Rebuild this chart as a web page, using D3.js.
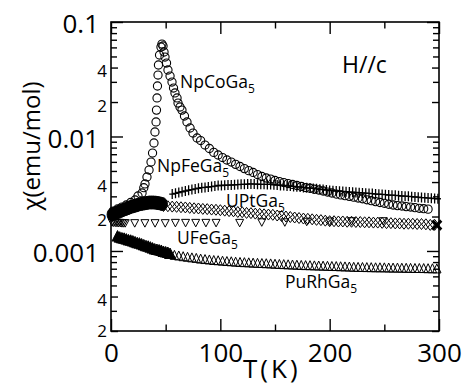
<!DOCTYPE html>
<html>
<head>
<meta charset="utf-8">
<script src="https://cdn.jsdelivr.net/npm/d3@7"></script>
<style>
  html, body { margin: 0; padding: 0; background: #fff; }
  svg { display: block; font-family: "Open Sans", sans-serif; }
</style>
</head>
<body>
<svg id="chart"></svg>
<script>
// susceptibility chi (emu/mol) vs T (K) as [T, chi]
var npCoGa5 = [
  [2, 0.00223], [6, 0.00233], [10, 0.00242], [14, 0.00252], [18, 0.00265], [22, 0.00279],
  [24.7, 0.00302], [28.4, 0.00321], [30, 0.00357], [31.1, 0.00385], [32.9, 0.00443], [34.8, 0.00509],
  [36.6, 0.00598], [38, 0.00717], [39.3, 0.00877], [40.2, 0.01094], [41.2, 0.0134], [41.6, 0.0170],
  [42.1, 0.0217], [42.5, 0.0276], [43, 0.0344], [43.4, 0.0421], [44.4, 0.0515], [45.7, 0.0605],
  [46.6, 0.0642], [47.6, 0.0617], [48.5, 0.0547], [49.4, 0.0494], [50.8, 0.0438], [52.1, 0.0381],
  [54, 0.0337], [55.8, 0.0299], [57.2, 0.0265], [58.5, 0.0240], [60.4, 0.0217], [61.3, 0.0196],
  [63.1, 0.0181], [64.9, 0.0170], [67.2, 0.0151], [69.5, 0.0134], [72.3, 0.01186], [75, 0.01072],
  [78.7, 0.0097], [82, 0.00922], [86, 0.00842], [90, 0.00785], [94, 0.00726], [98, 0.00689],
  [102, 0.00655], [106, 0.00623], [110, 0.00598], [114, 0.00571], [118, 0.00547], [122, 0.00524],
  [126, 0.00503], [130, 0.00485], [134, 0.00465], [138, 0.00447], [142, 0.00434], [146, 0.00425],
  [150, 0.00413], [154, 0.00404], [158, 0.00396], [162, 0.00388], [166, 0.00381], [170, 0.00373],
  [174, 0.00366], [178, 0.00358], [182, 0.00353], [186, 0.00346], [190, 0.00341], [194, 0.00334],
  [198, 0.00327], [202, 0.00321], [206, 0.00314], [210, 0.00309], [214, 0.00304], [218, 0.00300],
  [222, 0.00295], [226, 0.00290], [230, 0.00286], [234, 0.00280], [238, 0.00275], [242, 0.00270],
  [246, 0.00265], [250, 0.00261], [254, 0.00256], [258, 0.00252], [262, 0.00249], [266, 0.00247],
  [270, 0.00244], [274, 0.00242], [278, 0.00239], [282, 0.00236], [286, 0.00234], [290, 0.00232]
];

var npFeGa5 = [
  [56, 0.00314], [59, 0.00319], [62, 0.00324], [65, 0.00329], [68, 0.00334], [71, 0.00339],
  [74, 0.00344], [77, 0.00348], [80, 0.00353], [83, 0.00357], [86, 0.00359], [89, 0.00362],
  [92, 0.00365], [95, 0.00369], [98, 0.00373], [101, 0.00373], [104, 0.00375], [107, 0.00376],
  [110, 0.00377], [113, 0.00378], [116, 0.00380], [119, 0.00382], [122, 0.00382], [125, 0.00384],
  [128, 0.00385], [131, 0.00384], [134, 0.00383], [137, 0.00382], [140, 0.00382], [143, 0.00381],
  [146, 0.00381], [149, 0.00378], [152, 0.00377], [155, 0.00374], [158, 0.00373], [161, 0.00370],
  [164, 0.00369], [167, 0.00366], [170, 0.00363], [173, 0.00362], [176, 0.00359], [179, 0.00356],
  [182, 0.00355], [185, 0.00352], [188, 0.00349], [191, 0.00346], [194, 0.00344], [197, 0.00341],
  [200, 0.00338], [203, 0.00336], [206, 0.00334], [209, 0.00333], [212, 0.00331], [215, 0.00329],
  [218, 0.00327], [221, 0.00326], [224, 0.00324], [227, 0.00323], [230, 0.00321], [233, 0.00320],
  [236, 0.00318], [239, 0.00317], [242, 0.00314], [245, 0.00313], [248, 0.00312], [251, 0.00310],
  [254, 0.00308], [257, 0.00307], [260, 0.00306], [263, 0.00304], [266, 0.00302], [269, 0.00301],
  [272, 0.00300], [275, 0.00298], [278, 0.00296], [281, 0.00295], [284, 0.00293], [287, 0.00292],
  [290, 0.00290], [293, 0.00289], [296, 0.00287], [299, 0.00286]
];

// UPtGa5: dense low-T run (drawn solid) and open diamonds above ~48 K
var uPtGa5Low = [
  [1, 0.00208], [3, 0.00212], [5, 0.00216], [7, 0.00220], [9, 0.00224], [11, 0.00228],
  [13, 0.00232], [15, 0.00236], [17, 0.00240], [19, 0.00244], [21, 0.00247], [23, 0.00250],
  [25, 0.00254], [27, 0.00257], [29, 0.00259], [31, 0.00261], [33, 0.00263], [35, 0.00265],
  [37, 0.00265], [39, 0.00265], [41, 0.00264], [43, 0.00262], [45, 0.00260], [47, 0.00257]
];
var uPtGa5 = [
  [48, 0.00247], [52, 0.00246], [56, 0.00244], [60, 0.00243], [64, 0.00241], [68, 0.00240],
  [72, 0.00238], [76, 0.00236], [80, 0.00235], [84, 0.00233], [88, 0.00232], [92, 0.00230],
  [96, 0.00229], [100, 0.00227], [104, 0.00225], [108, 0.00223], [112, 0.00222], [116, 0.00219],
  [120, 0.00218], [124, 0.00215], [128, 0.00214], [132, 0.00212], [136, 0.00211], [140, 0.00209],
  [144, 0.00208], [148, 0.00207], [152, 0.00204], [156, 0.00202], [160, 0.00200], [164, 0.00198],
  [168, 0.00196], [172, 0.00194], [176, 0.00192], [180, 0.00191], [184, 0.00189], [188, 0.00187],
  [192, 0.00186], [196, 0.00184], [200, 0.00182], [204, 0.00182], [208, 0.00181], [212, 0.00181],
  [216, 0.00180], [220, 0.00180], [224, 0.00179], [228, 0.00179], [232, 0.00178], [236, 0.00178],
  [240, 0.00177], [244, 0.00177], [248, 0.00176], [252, 0.00175], [256, 0.00175], [260, 0.00174],
  [264, 0.00174], [268, 0.00173], [272, 0.00173], [276, 0.00173], [280, 0.00172], [284, 0.00172],
  [288, 0.00171], [292, 0.00169], [296, 0.00169]
];
var endMark = [[298, 0.00168]];

var uFeGa5 = [
  [1, 0.00178], [2.5, 0.00177], [4, 0.00177], [5.5, 0.00176], [7, 0.00176], [8.5, 0.00176],
  [10, 0.00175], [11.5, 0.00175], [13, 0.00175], [21.7, 0.00175], [31, 0.00175], [40.3, 0.00175],
  [49.6, 0.00175], [58.9, 0.00176], [68.2, 0.00176], [77.5, 0.00176], [86.8, 0.00176], [96.1, 0.00176],
  [117.7, 0.00176], [137.9, 0.00178], [159, 0.00178], [179, 0.00180], [200, 0.00181], [220, 0.00182],
  [249, 0.00182]
];

// PuRhGa5: dense low-T run (solid) and open triangles above ~55 K
var puRhGa5Low = [
  [6, 0.00135], [8, 0.00132], [10, 0.00130], [12, 0.00129], [14, 0.00127], [16, 0.00125],
  [18, 0.00124], [20, 0.00122], [22, 0.00120], [24, 0.00118], [26, 0.00117], [28, 0.00115],
  [30, 0.00113], [32, 0.00111], [34, 0.00110], [36, 0.00108], [38, 0.00106], [40, 0.00104],
  [42, 0.00103], [44, 0.00102], [46, 0.00101], [48, 0.00099], [50, 0.00098], [52, 0.00097],
  [54, 0.00095]
];
var puRhGa5 = [
  [58, 0.000919], [62, 0.000908], [66, 0.000895], [70, 0.000885], [74, 0.000874], [78, 0.000865],
  [82, 0.000853], [86, 0.000845], [90, 0.000838], [94, 0.000829], [98, 0.000825], [102, 0.000818],
  [106, 0.000812], [110, 0.000808], [114, 0.000802], [118, 0.000797], [122, 0.000794], [126, 0.000791],
  [130, 0.000786], [134, 0.000783], [138, 0.000780], [142, 0.000777], [146, 0.000774], [150, 0.000769],
  [154, 0.000766], [158, 0.000763], [162, 0.000760], [166, 0.000757], [170, 0.000754], [174, 0.000751],
  [178, 0.000748], [182, 0.000747], [186, 0.000744], [190, 0.000742], [194, 0.000740], [198, 0.000738],
  [202, 0.000735], [206, 0.000734], [210, 0.000731], [214, 0.000729], [218, 0.000727], [222, 0.000723],
  [226, 0.000722], [230, 0.000720], [234, 0.000719], [238, 0.000718], [242, 0.000716], [246, 0.000716],
  [250, 0.000715], [254, 0.000713], [258, 0.000712], [262, 0.000712], [266, 0.000710], [270, 0.000709],
  [274, 0.000708], [278, 0.000706], [282, 0.000706], [286, 0.000705], [290, 0.000703], [294, 0.000702],
  [298, 0.000700]
];

// ticks
var xMajor = [0, 100, 200, 300];
var xMinor = [50, 150, 250];
var yDecades = [0.001, 0.01, 0.1];
var yLabelled = [2e-4, 4e-4, 0.002, 0.004, 0.02, 0.04];
var yMinor = [3e-4, 5e-4, 6e-4, 7e-4, 8e-4, 9e-4, 0.003, 0.005, 0.006, 0.007, 0.008, 0.009,
              0.03, 0.05, 0.06, 0.07, 0.08, 0.09];

// labels placed next to the curves
var curveLabels = [
  { name: "NpCoGa", at: [180, 88] },
  { name: "NpFeGa", at: [157, 172] },
  { name: "UPtGa", at: [226, 207] },
  { name: "UFeGa", at: [177, 244] },
  { name: "PuRhGa", at: [285, 288] }
];

var width = 468, height = 387;
var margin = { top: 22, right: 29, bottom: 56, left: 111 };

var svg = d3.select("#chart")
    .attr("width", width)
    .attr("height", height)
    .attr("viewBox", "0 0 " + width + " " + height);

svg.append("rect").attr("width", width).attr("height", height).attr("fill", "#fff");

var x = d3.scaleLinear()
    .domain([0, 300])
    .range([margin.left, width - margin.right]);

var y = d3.scaleLog()
    .domain([2e-4, 0.1])
    .range([height - margin.bottom, margin.top]);

var x0 = x.range()[0], x1 = x.range()[1];
var yb = y.range()[0], yt = y.range()[1];

// axes, ticks point into the frame
function styleAxis(g, w) {
    g.select(".domain").remove();
    g.selectAll(".tick line").attr("stroke", "#000").attr("stroke-width", w);
}

svg.append("g")
    .attr("transform", "translate(0," + yb + ")")
    .call(d3.axisBottom(x).tickValues(xMajor).tickSize(-12).tickPadding(13).tickFormat(d3.format("d")))
    .call(g => styleAxis(g, 1.4))
    .call(g => g.selectAll("text").attr("font-size", 26).attr("font-family", "Open Sans").attr("fill", "#000"));
svg.append("g")
    .attr("transform", "translate(0," + yb + ")")
    .call(d3.axisBottom(x).tickValues(xMinor).tickSize(-6.5).tickFormat(""))
    .call(g => styleAxis(g, 1.4));
svg.append("g")
    .attr("transform", "translate(0," + yt + ")")
    .call(d3.axisTop(x).tickValues(xMajor).tickSize(-12).tickFormat(""))
    .call(g => styleAxis(g, 1.4));
svg.append("g")
    .attr("transform", "translate(0," + yt + ")")
    .call(d3.axisTop(x).tickValues(xMinor).tickSize(-6.5).tickFormat(""))
    .call(g => styleAxis(g, 1.4));

svg.append("g")
    .attr("transform", "translate(" + x0 + ",0)")
    .call(d3.axisLeft(y).tickValues(yDecades).tickSize(-12).tickPadding(12).tickFormat(d => String(d)))
    .call(g => styleAxis(g, 1.4))
    .call(g => g.selectAll("text").attr("font-size", 26).attr("font-family", "Open Sans")
        .attr("dy", "0.42em").attr("fill", "#000"));
svg.append("g")
    .attr("transform", "translate(" + x0 + ",0)")
    .call(d3.axisLeft(y).tickValues(yLabelled).tickSize(-7).tickPadding(4)
        .tickFormat(d => d3.format(".0e")(d).charAt(0)))
    .call(g => styleAxis(g, 1.4))
    .call(g => g.selectAll("text").attr("font-size", 17).attr("font-family", "Open Sans")
        .attr("dy", d => d === 2e-4 ? "0.3em" : "0.55em").attr("fill", "#000"));
svg.append("g")
    .attr("transform", "translate(" + x0 + ",0)")
    .call(d3.axisLeft(y).tickValues(yMinor).tickSize(-6).tickFormat(""))
    .call(g => styleAxis(g, 1.4));
svg.append("g")
    .attr("transform", "translate(" + x1 + ",0)")
    .call(d3.axisRight(y).tickValues(yDecades).tickSize(-12).tickFormat(""))
    .call(g => styleAxis(g, 1.4));
svg.append("g")
    .attr("transform", "translate(" + x1 + ",0)")
    .call(d3.axisRight(y).tickValues(yLabelled).tickSize(-7).tickFormat(""))
    .call(g => styleAxis(g, 1.4));
svg.append("g")
    .attr("transform", "translate(" + x1 + ",0)")
    .call(d3.axisRight(y).tickValues(yMinor).tickSize(-6).tickFormat(""))
    .call(g => styleAxis(g, 1.4));

// frame
svg.append("rect")
    .attr("x", x0).attr("y", yt)
    .attr("width", x1 - x0).attr("height", yb - yt)
    .attr("fill", "none").attr("stroke", "#000").attr("stroke-width", 1.6);

// markers
var shapes = {
    circle: "M4.1,0A4.1,4.1 0 1,1 -4.1,0A4.1,4.1 0 1,1 4.1,0Z",
    plus: "M-3,0H3M0,-5V5",
    diamond: "M0,-5.5L4.2,0L0,5.5L-4.2,0Z",
    blob: "M5,0A5,6.5 0 1,1 -5,0A5,6.5 0 1,1 5,0Z",
    down: "M-4,-3.5L4,-3.5L0,4Z",
    up: "M0,-4.8L4.2,4.2L-4.2,4.2Z",
    bigUp: "M0,-5.5L5.5,5L-5.5,5Z",
    times: "M-4.5,-4.5L4.5,4.5M4.5,-4.5L-4.5,4.5"
};

function drawSeries(data, shape, fill, sw) {
    svg.append("g")
        .selectAll("path")
        .data(data)
        .join("path")
        .attr("transform", d => "translate(" + x(d[0]) + "," + y(d[1]) + ")")
        .attr("d", shapes[shape])
        .attr("fill", fill)
        .attr("stroke", "#000")
        .attr("stroke-width", sw);
}

drawSeries(puRhGa5Low, "bigUp", "#000", 1);
drawSeries(puRhGa5, "up", "none", 1);
drawSeries(uFeGa5, "down", "none", 1);
drawSeries(uPtGa5Low, "blob", "#000", 1);
drawSeries(uPtGa5, "diamond", "none", 1);
drawSeries(npFeGa5, "plus", "none", 1.3);
drawSeries(npCoGa5, "circle", "none", 1.1);
drawSeries(endMark, "times", "none", 3);

// text
var labels = svg.append("g").attr("font-family", "Open Sans").attr("fill", "#000");
curveLabels.forEach(c => {
    var t = labels.append("text")
        .attr("x", c.at[0]).attr("y", c.at[1])
        .attr("font-size", 17.5);
    t.append("tspan").text(c.name);
    t.append("tspan").attr("font-size", 12).attr("dy", 5).text("5");
});

labels.append("text")
    .attr("x", 342).attr("y", 73)
    .attr("font-size", 23)
    .text("H//c");

labels.append("text")
    .attr("x", 243).attr("y", 378)
    .attr("font-size", 26)
    .attr("letter-spacing", 3)
    .text("T(K)");

labels.append("text")
    .attr("transform", "translate(40,146) rotate(-90)")
    .attr("text-anchor", "middle")
    .attr("font-size", 24)
    .text("χ(emu/mol)");
</script>
</body>
</html>
